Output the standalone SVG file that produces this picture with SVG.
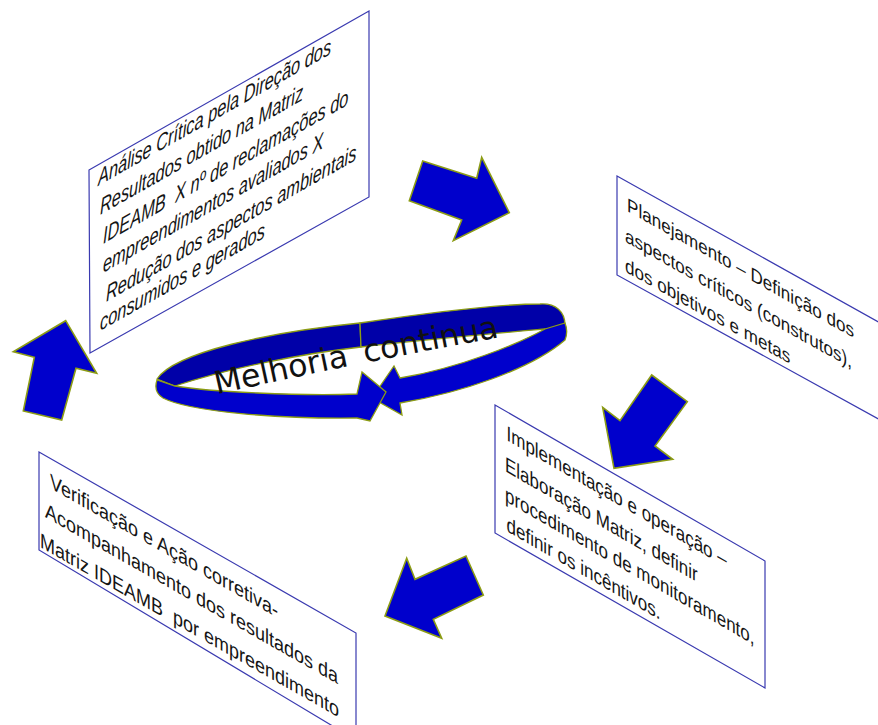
<svg xmlns="http://www.w3.org/2000/svg" width="878" height="725" viewBox="0 0 878 725">
<style>
.box{fill:#fff;stroke:#3A3AB0;stroke-width:1.2}
.arrow{fill:#0000CC;stroke:#8C9C14;stroke-width:1.6;stroke-linejoin:miter}
.ringb{fill:#0000A8;stroke:#8C9C14;stroke-width:1.3}
.ringf{fill:#0000CC;stroke:#8C9C14;stroke-width:1.3}
.t{font-family:"Liberation Sans",Arial,sans-serif;fill:#151515}
.ring-text{font-family:"DejaVu Sans",Verdana,sans-serif;font-size:31.5px;word-spacing:6px;fill:#111}
</style>
<rect width="878" height="725" fill="#fff"/>

<g id="node-analise">
<polygon class="box" points="89,170 369,11 369,197 90,353"/>
<g transform="matrix(0.713,-0.405,0,1,89,170)" class="t" font-size="23" font-style="italic">
<text x="12.6" y="21.1">Análise Crítica pela Direção dos</text>
<text x="15.4" y="51.2">Resultados obtido na Matriz</text>
<text x="19.6" y="81.9" xml:space="preserve">IDEAMB  X nº de reclamações do</text>
<text x="19.6" y="110.9">empreendimentos avaliados X</text>
<text x="23.8" y="141.6">Redução dos aspectos ambientais</text>
<text x="15.4" y="167.2">consumidos e gerados</text>
</g>
</g>

<g id="node-planejamento">
<polygon class="box" points="617,176 882,324 882,421 617,275"/>
<g transform="matrix(0.877,0.491,0,1,617,176)" class="t" font-size="19.5">
<text x="11.4" y="29.4">Planejamento – Definição dos</text>
<text x="9.1" y="61">aspectos críticos (construtos),</text>
<text x="9.1" y="91">dos objetivos e metas</text>
</g>
</g>

<g id="node-implementacao">
<polygon class="box" points="495,405 765,561 765,688 495,533"/>
<g transform="matrix(0.81,0.468,0,1,495,405)" class="t" font-size="21">
<text x="14.2" y="28.4">Implementação e operação –</text>
<text x="12.3" y="60.2">Elaboração Matriz, definir</text>
<text x="12.3" y="90.2">procedimento de monitoramento,</text>
<text x="14.2" y="119.4">definir os incêntivos.</text>
</g>
</g>

<g id="node-verificacao">
<polygon class="box" points="39,452 356,633 356,740 39,550"/>
<g transform="matrix(0.857,0.489,0,1,39,452)" class="t" font-size="21">
<text x="12.8" y="29.7">Verificação e Ação corretiva-</text>
<text x="7" y="61.6">Acompanhamento dos resultados da</text>
<text x="1.2" y="94.4" xml:space="preserve">Matriz IDEAMB  por empreendimento</text>
</g>
</g>

<g id="connectors">
<polygon class="arrow" points="65.7,320.7 96.7,373.3 76,368.3 61.7,420 23.3,411 34.3,357.3 13.3,351.7"/>
<polygon class="arrow" points="422.7,161 476.7,178.3 481.7,157.3 509.3,212.7 453.3,240.7 461.7,220 409.3,200.7"/>
<polygon class="arrow" points="651.7,375 687.3,401.7 655,446 672.7,459.3 614,468.3 602.7,407.3 620,420.7"/>
<polygon class="arrow" points="466,556 483.3,595 433.3,619.3 441.7,638.3 385,616 406.7,558.3 415,579.3"/>
</g>

<g id="node-melhoria">
<path class="ringb" d="M360,323 C270,332 175,352 157,379 L175,386 C230,368 300,354 361,347 Z"/>
<path class="ringb" d="M360,323 C420,314 500,304 540,304 C556,303 565,312 565,325 L563,333 L545,329 C500,333 420,340 361,347 Z"/>
<path class="ringf" d="M545,329 C520,343 460,368 400,378 L394,366 L372,398 L402,415 L400,403 C460,393 530,370 565,340 C567,335 567,328 565,323 Z"/>
<path class="ringf" d="M175,386 C210,392 300,396 357,394 L362,372 L386,392 L370,421 L357,418 C280,419 190,412 163,398 C155,393 155,386 157,380 Z"/>
<path id="ringTextPath" d="M214,395 Q360,362 512,335" fill="none"/>
<text class="ring-text"><textPath href="#ringTextPath" startOffset="3">Melhoria continua</textPath></text>
</g>
</svg>
